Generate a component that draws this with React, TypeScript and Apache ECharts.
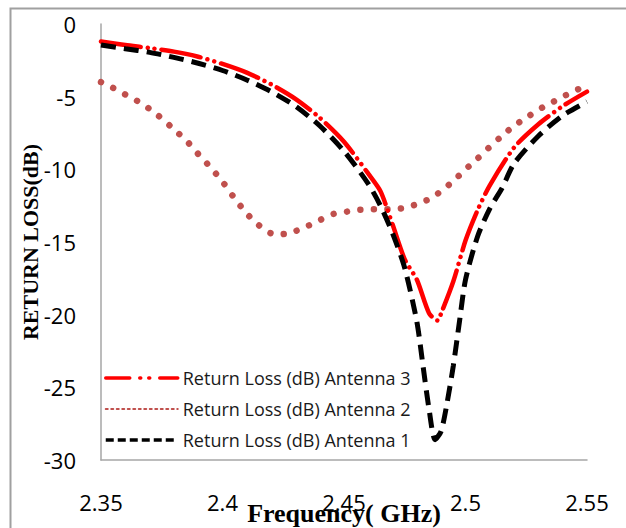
import React, { useEffect, useRef } from "react";
import * as echarts from "echarts";

const xTicks = [2.35, 2.4, 2.45, 2.5, 2.55];
const yTicks = [-30, -25, -20, -15, -10, -5, 0];

const seriesNames = [
  "Return Loss (dB) Antenna 1",
  "Return Loss (dB) Antenna 2",
  "Return Loss (dB) Antenna 3",
];
const legendOrder = [
  "Return Loss (dB) Antenna 3",
  "Return Loss (dB) Antenna 2",
  "Return Loss (dB) Antenna 1",
];

// Antenna 1 (black dashed)
const freqA1 = [
  2.35, 2.36, 2.37, 2.38, 2.39, 2.4, 2.41, 2.42, 2.43, 2.44, 2.45, 2.46, 2.465,
  2.47, 2.475, 2.48, 2.4825, 2.485, 2.4875, 2.49, 2.4925, 2.495, 2.4975, 2.5,
  2.505, 2.51, 2.515, 2.52, 2.53, 2.54, 2.55,
];
const lossA1 = [
  -1.45, -1.7, -1.95, -2.3, -2.7, -3.2, -3.85, -4.65, -5.65, -7.0, -8.75, -11.0,
  -12.5, -14.4, -16.8, -20.5, -23.5, -26.5, -28.6, -28.0, -26.0, -23.5, -20.5,
  -17.6, -14.6, -12.7, -11.3, -9.6, -7.7, -6.3, -5.35,
];

// Antenna 2 (brown dotted)
const freqA2 = [
  2.35, 2.355, 2.36, 2.365, 2.37, 2.375, 2.38, 2.385, 2.39, 2.395, 2.4, 2.405,
  2.41, 2.415, 2.42, 2.425, 2.43, 2.435, 2.44, 2.445, 2.45, 2.455, 2.46, 2.465,
  2.47, 2.475, 2.48, 2.485, 2.49, 2.495, 2.5, 2.505, 2.51, 2.515, 2.52, 2.525,
  2.53, 2.535, 2.54, 2.545, 2.55,
];
const lossA2 = [
  -4.0, -4.4, -4.85, -5.3, -5.85, -6.5, -7.25, -8.0, -8.95, -9.85, -10.85, -12.0,
  -13.05, -13.85, -14.4, -14.45, -14.25, -13.9, -13.5, -13.1, -12.95, -12.8,
  -12.75, -12.75, -12.75, -12.65, -12.4, -12.05, -11.5, -10.8, -10.0, -9.25,
  -8.45, -7.7, -7.0, -6.45, -5.9, -5.45, -5.0, -4.6, -4.2,
];

// Antenna 3 (red long dash dot dot)
const freqA3 = [
  2.35, 2.36, 2.37, 2.38, 2.39, 2.4, 2.41, 2.42, 2.43, 2.44, 2.45, 2.46, 2.465,
  2.47, 2.475, 2.48, 2.485, 2.4885, 2.49, 2.495, 2.5, 2.505, 2.51, 2.52, 2.53,
  2.54, 2.55,
];
const lossA3 = [
  -1.2, -1.45, -1.65, -1.9, -2.25, -2.75, -3.35, -4.15, -5.15, -6.45, -8.1,
  -10.3, -11.5, -13.8, -16.2, -17.6, -19.9, -20.4, -19.9, -17.7, -14.9, -12.8,
  -11.1, -8.5, -6.9, -5.65, -4.65,
];

const pairs = (xs: number[], ys: number[]) => xs.map((x, i) => [x, ys[i]]);

export default function App() {
  const ref = useRef<HTMLDivElement>(null);

  useEffect(() => {
    document.body.style.margin = "0";
    const chart = echarts.init(ref.current!, null, { renderer: "svg" });
    const sans = "'Open Sans', 'Noto Sans', sans-serif";
    const serif = "'Liberation Serif', 'DejaVu Serif', serif";
    const hiddenSymbol = { opacity: 0 };
    chart.setOption({
      animation: false,
      backgroundColor: "#ffffff",
      graphic: [
        {
          type: "rect",
          shape: { x: 10.5, y: 8.5, width: 700, height: 600 },
          style: { fill: "none", stroke: "#a0a0a0", lineWidth: 2 },
          silent: true,
          z: -1,
        },
      ],
      grid: {
        left: 101,
        top: 24,
        right: 39,
        bottom: 68,
        containLabel: false,
        outerBoundsMode: "none",
      },
      legend: {
        orient: "vertical",
        left: 104,
        top: 369,
        padding: 0,
        itemWidth: 72,
        itemHeight: 14,
        itemGap: 13,
        textStyle: { fontFamily: sans, fontSize: 18, color: "#1a1a1a" },
        data: [
          {
            name: legendOrder[0],
            itemStyle: hiddenSymbol,
            lineStyle: { color: "#ff0000", width: 3.5, type: [24, 10, 1, 8, 1, 10], cap: "round" },
          },
          {
            name: legendOrder[1],
            itemStyle: hiddenSymbol,
            lineStyle: { color: "#c0504d", width: 2, type: [2, 3.5] },
          },
          {
            name: legendOrder[2],
            itemStyle: hiddenSymbol,
            lineStyle: { color: "#000000", width: 3.5, type: [8, 4] },
          },
        ],
      },
      xAxis: {
        type: "value",
        min: xTicks[0],
        max: xTicks[xTicks.length - 1],
        interval: 0.05,
        name: "Frequency( GHz)",
        nameLocation: "middle",
        nameGap: 40,
        nameMoveOverlap: false,
        nameTextStyle: { fontFamily: serif, fontWeight: "bold", fontSize: 26, color: "#000" },
        axisLine: { show: true, onZero: false, lineStyle: { color: "#a6a6a6", width: 1.5 } },
        axisTick: { show: false },
        splitLine: { show: false },
        axisLabel: {
          margin: 31,
          fontFamily: sans,
          fontSize: 22,
          color: "#000",
          formatter: (v: number) => String(+v.toFixed(2)),
        },
      },
      yAxis: {
        type: "value",
        min: yTicks[0],
        max: yTicks[yTicks.length - 1],
        interval: 5,
        name: "RETURN LOSS(dB)",
        nameLocation: "middle",
        nameRotate: 90,
        nameGap: 60,
        nameMoveOverlap: false,
        nameTextStyle: { fontFamily: serif, fontWeight: "bold", fontSize: 22, color: "#000" },
        axisLine: { show: true, onZero: false, lineStyle: { color: "#a6a6a6", width: 1.5 } },
        axisTick: { show: false },
        splitLine: { show: false },
        axisLabel: { margin: 25, fontFamily: sans, fontSize: 22, color: "#000" },
      },
      series: [
        {
          name: seriesNames[0],
          type: "line",
          data: pairs(freqA1, lossA1),
          showSymbol: false,
          symbol: "none",
          smooth: 0.25,
          itemStyle: { color: "#000000" },
          lineStyle: { color: "#000000", width: 5, type: [15, 8] },
          z: 3,
        },
        {
          name: seriesNames[1],
          type: "line",
          data: pairs(freqA2, lossA2),
          showSymbol: false,
          symbol: "none",
          smooth: 0.25,
          itemStyle: { color: "#c0504d" },
          lineStyle: { color: "#c0504d", width: 6.5, type: [0.01, 13.5], cap: "round" },
          z: 2,
        },
        {
          name: seriesNames[2],
          type: "line",
          data: pairs(freqA3, lossA3),
          showSymbol: false,
          symbol: "none",
          smooth: 0.25,
          itemStyle: { color: "#ff0000" },
          lineStyle: { color: "#ff0000", width: 4.5, type: [40, 7, 0.01, 7, 0.01, 7], cap: "round" },
          z: 2,
        },
      ],
    });
    return () => chart.dispose();
  }, []);

  return (
    <div
      ref={ref}
      style={{ position: "absolute", left: 0, top: 0, width: 626, height: 528 }}
    />
  );
}
